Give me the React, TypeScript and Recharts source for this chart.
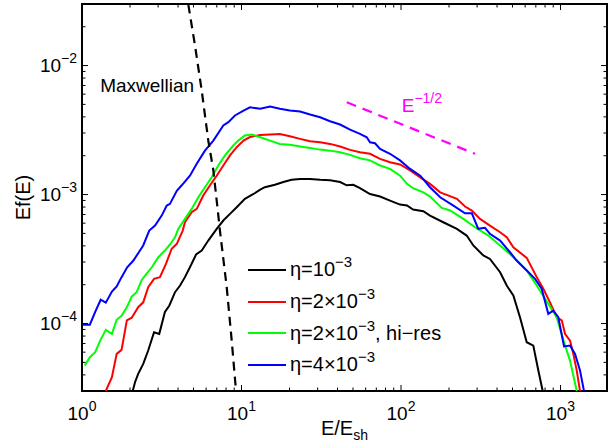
import React from "react";
import {
  Legend,
  Line,
  LineChart,
  ReferenceArea,
  ReferenceDot,
  XAxis,
  YAxis,
} from "recharts";

// chart size / plot box
const W = 613;
const H = 448;
const MARGIN = { top: 4, right: 6, left: 0, bottom: 0 };
const Y_AXIS_W = 82;
const X_AXIS_H = 57;
const PLOT_W = W - MARGIN.left - MARGIN.right - Y_AXIS_W;
const PLOT_H = H - MARGIN.top - MARGIN.bottom - X_AXIS_H;

const X_MIN = 1;
const X_MAX = 1956;
const Y_MIN = 3e-5;
const Y_MAX = 3e-2;

const FONT = "'Liberation Sans', Arial, Helvetica, sans-serif";

// ticks
const xDecades = [1, 10, 100, 1000];
const yDecades = [1e-5, 1e-4, 1e-3, 1e-2];
const minorSteps = [2, 3, 4, 5, 6, 7, 8, 9];

// eta = 1e-3
const blackE = [2.08, 2.15, 2.25, 2.42, 2.6, 2.83, 3.05, 3.31, 3.53, 3.83, 4.12, 4.42, 4.75, 5.19, 5.63, 6.19, 6.99, 7.69, 8.47, 9.33, 10.5, 11.9, 13.1, 14.0, 16.2, 18.3, 20.6, 23.3, 26.9, 31.1, 35.9, 41.5, 45.7, 50.2, 55.3, 63.9, 73.9, 85.3, 98.6, 109, 119, 138, 152, 184, 224, 258, 284, 328, 361, 418, 460, 506, 557, 614, 675, 726, 773];
const blackF = [3.0e-5, 3.51e-5, 4.07e-5, 4.87e-5, 6.18e-5, 8.57e-5, 8.32e-5, 1.23e-4, 1.38e-4, 1.75e-4, 1.97e-4, 2.29e-4, 2.73e-4, 3.43e-4, 3.68e-4, 4.4e-4, 5.42e-4, 6.29e-4, 7.08e-4, 7.97e-4, 9.27e-4, 1.01e-3, 1.09e-3, 1.14e-3, 1.19e-3, 1.25e-3, 1.3e-3, 1.32e-3, 1.32e-3, 1.3e-3, 1.29e-3, 1.25e-3, 1.18e-3, 1.19e-3, 1.12e-3, 1.01e-3, 9.65e-4, 8.98e-4, 8.36e-4, 8.22e-4, 7.65e-4, 7.43e-4, 6.87e-4, 6.1e-4, 5.42e-4, 4.81e-4, 4.03e-4, 3.37e-4, 3.17e-4, 2.5e-4, 1.97e-4, 1.65e-4, 1.12e-4, 7.16e-5, 6.75e-5, 4.32e-5, 3.0e-5];

// eta = 2e-3
const redE = [1.41, 1.54, 1.65, 1.77, 1.91, 2.05, 2.25, 2.42, 2.6, 2.83, 3.08, 3.36, 3.65, 3.93, 4.28, 4.42, 4.87, 5.24, 5.76, 6.35, 6.99, 7.69, 8.47, 9.33, 10.3, 11.3, 13.1, 15.1, 17.4, 20.1, 23.3, 26.9, 31.1, 35.9, 41.5, 47.9, 55.3, 63.9, 73.9, 85.3, 98.6, 114, 132, 152, 176, 224, 252, 278, 313, 361, 418, 460, 506, 614, 709, 780, 859, 946, 1018, 1067, 1147, 1203, 1264, 1325];
const redF = [3.0e-5, 3.84e-5, 5.82e-5, 6.25e-5, 1.06e-4, 1.11e-4, 1.34e-4, 1.46e-4, 1.91e-4, 2.22e-4, 2.29e-4, 2.9e-4, 3.8e-4, 4.15e-4, 5.26e-4, 6.1e-4, 7.29e-4, 7.74e-4, 9.82e-4, 1.18e-3, 1.4e-3, 1.68e-3, 2.01e-3, 2.33e-3, 2.62e-3, 2.79e-3, 2.9e-3, 2.92e-3, 2.95e-3, 2.83e-3, 2.7e-3, 2.59e-3, 2.54e-3, 2.47e-3, 2.36e-3, 2.22e-3, 2.13e-3, 2.07e-3, 1.89e-3, 1.78e-3, 1.71e-3, 1.54e-3, 1.36e-3, 1.21e-3, 1.04e-3, 9.27e-4, 8.07e-4, 7.52e-4, 6.48e-4, 5.75e-4, 5.1e-4, 4.67e-4, 3.9e-4, 3.23e-4, 2.29e-4, 1.86e-4, 1.46e-4, 1.12e-4, 1.06e-4, 8.32e-5, 7.38e-5, 5.82e-5, 4.32e-5, 3.0e-5];

// eta = 2e-3, hi-res
const greenE = [1.04, 1.12, 1.21, 1.3, 1.41, 1.54, 1.65, 1.77, 1.91, 2.05, 2.2, 2.37, 2.55, 2.74, 3.01, 3.31, 3.56, 3.83, 4.01, 4.42, 4.87, 5.36, 5.9, 6.5, 7.15, 7.88, 8.88, 9.55, 10.5, 11.6, 13.1, 15.1, 17.4, 20.1, 23.3, 26.9, 31.1, 35.9, 41.5, 47.9, 55.3, 63.9, 73.9, 85.3, 98.6, 109, 119, 138, 152, 180, 203, 246, 291, 353, 418, 506, 614, 709, 838, 946, 1067, 1147, 1264];
const greenF = [4.72e-5, 5.48e-5, 5.99e-5, 7.38e-5, 8.93e-5, 8.32e-5, 1.07e-4, 1.15e-4, 1.34e-4, 1.62e-4, 1.75e-4, 2.18e-4, 2.45e-4, 2.73e-4, 3.27e-4, 3.68e-4, 4.1e-4, 4.67e-4, 5.42e-4, 6.48e-4, 7.74e-4, 9.53e-4, 1.14e-3, 1.36e-3, 1.68e-3, 2.01e-3, 2.4e-3, 2.62e-3, 2.87e-3, 2.92e-3, 2.78e-3, 2.62e-3, 2.47e-3, 2.43e-3, 2.36e-3, 2.3e-3, 2.23e-3, 2.19e-3, 2.13e-3, 2.03e-3, 1.91e-3, 1.84e-3, 1.68e-3, 1.58e-3, 1.4e-3, 1.21e-3, 1.12e-3, 1.04e-3, 9.65e-4, 7.88e-4, 7.52e-4, 6.48e-4, 5.58e-4, 4.81e-4, 4.03e-4, 3.27e-4, 2.58e-4, 1.97e-4, 1.42e-4, 1.12e-4, 6.75e-5, 5.16e-5, 3.0e-5];

// eta = 4e-3
const blueE = [1.01, 1.12, 1.21, 1.31, 1.41, 1.54, 1.65, 1.77, 1.92, 2.1, 2.25, 2.42, 2.64, 2.87, 3.16, 3.4, 3.56, 3.93, 4.22, 4.75, 5.24, 5.9, 6.66, 7.69, 8.27, 9.1, 10.3, 11.3, 13.1, 15.1, 17.4, 20.1, 23.3, 26.9, 31.1, 35.9, 41.5, 47.9, 55.3, 61.0, 63.9, 68.7, 73.9, 85.3, 98.6, 114, 132, 152, 176, 213, 252, 278, 305, 336, 361, 418, 482, 531, 614, 692, 762, 838, 901, 968, 1052, 1147, 1233, 1325, 1403];
const blueF = [9.8e-5, 9.8e-5, 1.23e-4, 1.53e-4, 1.45e-4, 1.77e-4, 1.94e-4, 2.29e-4, 2.73e-4, 3.08e-4, 3.51e-4, 4.03e-4, 5.26e-4, 5.75e-4, 6.87e-4, 8.22e-4, 8.47e-4, 1.07e-3, 1.18e-3, 1.4e-3, 1.73e-3, 2.19e-3, 2.62e-3, 3.43e-3, 3.64e-3, 4.1e-3, 4.48e-3, 4.75e-3, 4.62e-3, 4.81e-3, 4.62e-3, 4.48e-3, 4.4e-3, 4.17e-3, 3.97e-3, 3.7e-3, 3.49e-3, 3.19e-3, 2.95e-3, 2.78e-3, 2.54e-3, 2.5e-3, 2.26e-3, 2.07e-3, 1.84e-3, 1.58e-3, 1.4e-3, 1.14e-3, 9.53e-4, 8.21e-4, 7.16e-4, 7.16e-4, 5.42e-4, 5.52e-4, 4.96e-4, 4.4e-4, 3.57e-4, 3.08e-4, 2.58e-4, 2.22e-4, 1.86e-4, 1.19e-4, 1.26e-4, 1.12e-4, 6.64e-5, 6.75e-5, 5.82e-5, 4.32e-5, 3.0e-5];

// Maxwellian (dashed)
const maxwellE = [4.64, 5.11, 5.63, 6.19, 6.66, 6.99, 7.35, 8.08, 8.68, 9.24];
const maxwellF = [2.97e-2, 1.43e-2, 6.4e-3, 2.62e-3, 1.54e-3, 8.98e-4, 5.07e-4, 1.91e-4, 7.38e-5, 3.0e-5];

// E^-1/2 guide
const guideE = [45.7, 291];
const guideF = [5.19e-3, 2.07e-3];

// annotation anchors (data coords)
const maxwellLabel = { E: 1.3, f: 6.2e-3 };
const guideLabel = { E: 101, f: 4.33e-3 };

const series = [
  { key: "k", name: "10", E: blackE, F: blackF, color: "#000000", extra: "" },
  { key: "r", name: "2×10", E: redE, F: redF, color: "#ff0000", extra: "" },
  { key: "g", name: "2×10", E: greenE, F: greenF, color: "#00ff00", extra: ", hi−res" },
  { key: "b", name: "4×10", E: blueE, F: blueF, color: "#0000ff", extra: "" },
];

const toPoints = (es: number[], fs: number[]) => es.map((E, i) => ({ E, f: fs[i] }));

const isDecade = (v: number) => Math.abs(Math.log10(v) - Math.round(Math.log10(v))) < 1e-6;
const expText = (v: number) => {
  const e = Math.round(Math.log10(v));
  return e < 0 ? "−" + Math.abs(e) : String(e);
};

const xTicks = xDecades
  .flatMap((d) => [d, ...minorSteps.map((m) => d * m)])
  .filter((v) => v >= X_MIN && v < X_MAX);
const yTicks = yDecades
  .flatMap((d) => [d, ...minorSteps.map((m) => d * m)])
  .filter((v) => v > Y_MIN * 1.01 && v < Y_MAX * 0.99);

const XTick = (props: any) => {
  const { x, y, payload } = props;
  const major = isDecade(payload.value);
  const len = major ? 6 : 3.5;
  return (
    <g>
      <line x1={x} y1={y} x2={x} y2={y - len} stroke="#000" strokeWidth={1} />
      <line x1={x} y1={y - PLOT_H} x2={x} y2={y - PLOT_H + len} stroke="#000" strokeWidth={1} />
      {major && (
        <text x={x} y={y + 29} textAnchor="middle" fontSize={19} fill="#000">
          <tspan>10</tspan>
          <tspan dy={-9} fontSize={14}>{expText(payload.value)}</tspan>
        </text>
      )}
    </g>
  );
};

const YTick = (props: any) => {
  const { x, y, payload } = props;
  const major = isDecade(payload.value);
  const len = major ? 6 : 3.5;
  return (
    <g>
      <line x1={x} y1={y} x2={x + len} y2={y} stroke="#000" strokeWidth={1} />
      <line x1={x + PLOT_W} y1={y} x2={x + PLOT_W - len} y2={y} stroke="#000" strokeWidth={1} />
      {major && (
        <text x={x - 5} y={y + 6} textAnchor="end" fontSize={19} fill="#000">
          <tspan>10</tspan>
          <tspan dy={-9} fontSize={14}>{expText(payload.value)}</tspan>
        </text>
      )}
    </g>
  );
};

const renderLegend = () => (
  <div style={{ fontFamily: FONT, fontSize: 20, color: "#000" }}>
    {series.map((s) => (
      <div key={s.key} style={{ display: "flex", alignItems: "center", height: 31.7, whiteSpace: "nowrap" }}>
        <svg width={42} height={6} style={{ display: "block" }}>
          <line x1={0} y1={3} x2={38} y2={3} stroke={s.color} strokeWidth={2} />
        </svg>
        <span>
          η={s.name}
          <span style={{ fontSize: 15, position: "relative", top: -9 }}>−3</span>
          {s.extra}
        </span>
      </div>
    ))}
  </div>
);

export default function App() {
  return (
    <div style={{ width: W, height: H, fontFamily: FONT, background: "#fff" }}>
      <style>{"body{margin:0}"}</style>
      <LineChart width={W} height={H} margin={MARGIN}>
        <XAxis
          dataKey="E"
          type="number"
          scale="log"
          domain={[X_MIN, X_MAX]}
          allowDataOverflow
          ticks={xTicks}
          interval={0}
          tick={<XTick />}
          tickLine={false}
          tickSize={0}
          tickMargin={0}
          axisLine={false}
          height={X_AXIS_H}
          label={{
            content: (p: any) => {
              const vb = p.viewBox;
              return (
                <text x={vb.x + vb.width / 2} y={vb.y + 44} textAnchor="middle" fontSize={20} fill="#000">
                  <tspan>E/E</tspan>
                  <tspan dy={5} fontSize={14}>sh</tspan>
                </text>
              );
            },
          }}
        />
        <YAxis
          dataKey="f"
          type="number"
          scale="log"
          domain={[Y_MIN, Y_MAX]}
          allowDataOverflow
          ticks={yTicks}
          interval={0}
          tick={<YTick />}
          tickLine={false}
          tickSize={0}
          tickMargin={0}
          axisLine={false}
          width={Y_AXIS_W}
          label={{
            content: (p: any) => {
              const vb = p.viewBox;
              const cx = vb.x + 23;
              const cy = vb.y + vb.height / 2;
              return (
                <text x={cx} y={cy} transform={`rotate(-90 ${cx} ${cy})`} textAnchor="middle" dominantBaseline="central" fontSize={20} fill="#000">
                  Ef(E)
                </text>
              );
            },
          }}
        />
        {series.map((s) => (
          <Line
            key={s.key}
            data={toPoints(s.E, s.F)}
            dataKey="f"
            type="linear"
            stroke={s.color}
            strokeWidth={2}
            dot={false}
            activeDot={false}
            isAnimationActive={false}
            legendType="none"
          />
        ))}
        <Line
          data={toPoints(maxwellE, maxwellF)}
          dataKey="f"
          type="linear"
          stroke="#000"
          strokeWidth={2.2}
          strokeDasharray="9 6"
          dot={false}
          activeDot={false}
          isAnimationActive={false}
          legendType="none"
        />
        <Line
          data={toPoints(guideE, guideF)}
          dataKey="f"
          type="linear"
          stroke="#ff00ff"
          strokeWidth={2.2}
          strokeDasharray="10 7"
          dot={false}
          activeDot={false}
          isAnimationActive={false}
          legendType="none"
        />
        <ReferenceDot
          x={maxwellLabel.E}
          y={maxwellLabel.f}
          r={0}
          ifOverflow="visible"
          shape={(p: any) => (
            <text x={p.cx} y={p.cy} fontSize={19} fill="#000">
              Maxwellian
            </text>
          )}
        />
        <ReferenceDot
          x={guideLabel.E}
          y={guideLabel.f}
          r={0}
          ifOverflow="visible"
          shape={(p: any) => (
            <text x={p.cx} y={p.cy} fontSize={19} fill="#ff00ff">
              <tspan>E</tspan>
              <tspan dy={-9} fontSize={14}>−1/2</tspan>
            </text>
          )}
        />
        <ReferenceArea
          x1={X_MIN}
          x2={X_MAX}
          y1={Y_MIN}
          y2={Y_MAX}
          fill="none"
          stroke="#000"
          strokeWidth={2}
          ifOverflow="visible"
        />
        <Legend
          content={renderLegend}
          layout="vertical"
          align="center"
          verticalAlign="middle"
          wrapperStyle={{ position: "absolute", left: 248, top: 254, width: "auto", height: "auto" }}
        />
      </LineChart>
    </div>
  );
}
